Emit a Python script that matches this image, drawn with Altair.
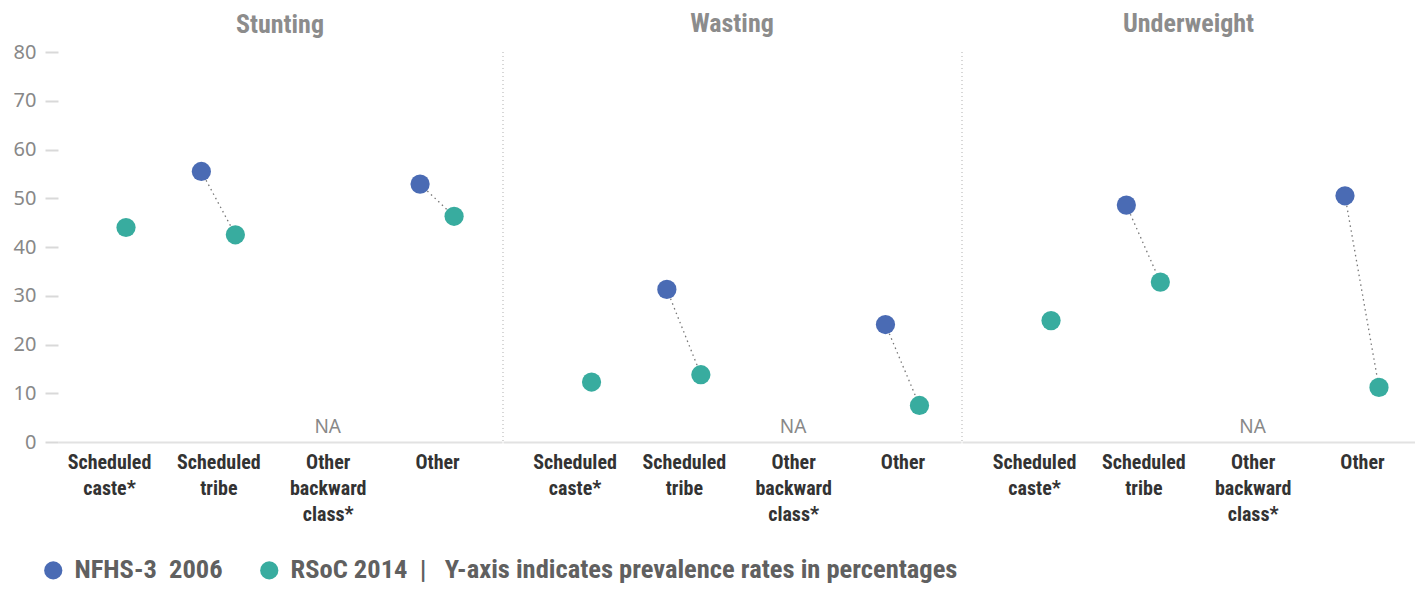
import altair as alt
import pandas as pd

indicators = ["Stunting", "Wasting", "Underweight"]
categories = ["Scheduled caste*", "Scheduled tribe", "Other backward class*", "Other"]
series = ["NFHS-3\u00a0\u00a02006", "RSoC 2014"]
colors = ["#4A6BB4", "#38AC9F"]

nfhs_2006 = {
    "Stunting": [None, 55.5, None, 52.9],
    "Wasting": [None, 31.3, None, 24.1],
    "Underweight": [None, 48.6, None, 50.5],
}
rsoc_2014 = {
    "Stunting": [44.0, 42.5, None, 46.3],
    "Wasting": [12.3, 13.8, None, 7.5],
    "Underweight": [24.9, 32.8, None, 11.2],
}
na_category = "Other backward class*"
y_ticks = [0, 10, 20, 30, 40, 50, 60, 70, 80]
note = "\u00a0\u00a0|\u00a0\u00a0 Y-axis indicates prevalence rates in percentages"

COND = "Roboto Condensed, Liberation Sans Narrow, Arial Narrow, Roboto, sans-serif"
PLAIN = "Noto Sans, Open Sans, sans-serif"
H = 390

# panel geometry: width, point padding, align, title offset
geom = {
    "Stunting": (444, 0.53, 0.44, 4),
    "Wasting": (458, 0.595, 0.55, 14),
    "Underweight": (453, 0.572, 0.576, 14),
}


def panel(ind, first):
    w, pad, al, toff = geom[ind]
    long_rows = []
    wide_rows = []
    for i, c in enumerate(categories):
        a = nfhs_2006[ind][i]
        b = rsoc_2014[ind][i]
        if a is not None:
            long_rows.append({"category": c, "series": series[0], "value": a})
        if b is not None:
            long_rows.append({"category": c, "series": series[1], "value": b})
        if a is not None and b is not None:
            wide_rows.append({"category": c, "nfhs": a, "rsoc": b})
    long_df = pd.DataFrame(long_rows)
    wide_df = pd.DataFrame(wide_rows)

    xscale = alt.Scale(type="point", domain=categories, padding=pad, align=al)
    xaxis = alt.Axis(
        title=None, labelAngle=0, labelExpr="split(datum.value, ' ')",
        labelFont=COND, labelFontSize=20, labelFontWeight="bold", labelColor="#333333",
        labelLineHeight=26, labelPadding=10, ticks=False, domainColor="#e2e2e2",
        domainWidth=2, labelBaseline="top",
    )
    yscale = alt.Scale(domain=[0, 80], nice=False)
    if first:
        yaxis = alt.Axis(
            title=None, values=y_ticks, labelFont=PLAIN, labelFontSize=20,
            labelColor="#888888", ticks=True, tickColor="#d9d9d9", tickSize=13,
            tickWidth=2, labelPadding=9, domain=False, grid=False,
        )
    else:
        yaxis = None

    x = alt.X("category:N", scale=xscale, axis=xaxis, sort=categories)

    base = alt.Chart(long_df)
    layers = []

    if not first:
        sep = alt.Chart(pd.DataFrame({"s": [1]})).mark_rule(
            color="#bdbdbd", strokeDash=[1, 3], strokeWidth=1.2
        ).encode(x=alt.value(0), y=alt.value(0), y2=alt.value(H))
        layers.append(sep)

    conn = alt.Chart(wide_df).mark_rule(
        color="#777777", strokeDash=[1.5, 3.5], strokeWidth=1.3, xOffset=-17, x2Offset=17
    ).encode(
        x=x, x2="category:N",
        y=alt.Y("nfhs:Q", scale=yscale, axis=yaxis),
        y2="rsoc:Q",
    )
    layers.append(conn)

    for s, off in zip(series, [-17, 17]):
        pts = base.transform_filter(alt.datum.series == s).mark_circle(
            size=370, opacity=1, xOffset=off
        ).encode(
            x=x,
            y=alt.Y("value:Q", scale=yscale, axis=yaxis),
            color=alt.Color(
                "series:N", scale=alt.Scale(domain=series, range=colors),
                legend=alt.Legend(
                    title=None, orient="none", legendX=-18, legendY=505,
                    direction="horizontal",
                    symbolType="circle", symbolSize=330, symbolStrokeWidth=0,
                    labelFont=COND, labelFontSize=26.5, labelFontWeight="bold",
                    labelColor="#606060", columnPadding=33, labelOffset=8,
                    labelExpr=f"datum.label == '{series[1]}' ? datum.label + '{note}' : datum.label",
                    labelLimit=900,
                ),
            ),
        )
        layers.append(pts)

    na = alt.Chart(pd.DataFrame({"category": [na_category], "label": ["NA"]})).mark_text(
        font=PLAIN, fontSize=19, color="#888888", baseline="middle"
    ).encode(x=x, y=alt.value(375), text="label:N")
    layers.append(na)

    return alt.layer(*layers).properties(
        width=w, height=H,
        title=alt.TitleParams(
            ind, font=COND, fontSize=26, fontWeight="bold", color="#8c8c8c",
            anchor="middle", offset=toff,
        ),
    )


chart = alt.hconcat(
    *[panel(ind, i == 0) for i, ind in enumerate(indicators)], spacing=0
).resolve_scale(x="independent", y="shared").properties(
    padding={"left": 5, "top": 3, "right": 0, "bottom": 12}
).configure_view(stroke=None)

chart.save("out.html", embed_options={"renderer": "svg", "actions": False})
